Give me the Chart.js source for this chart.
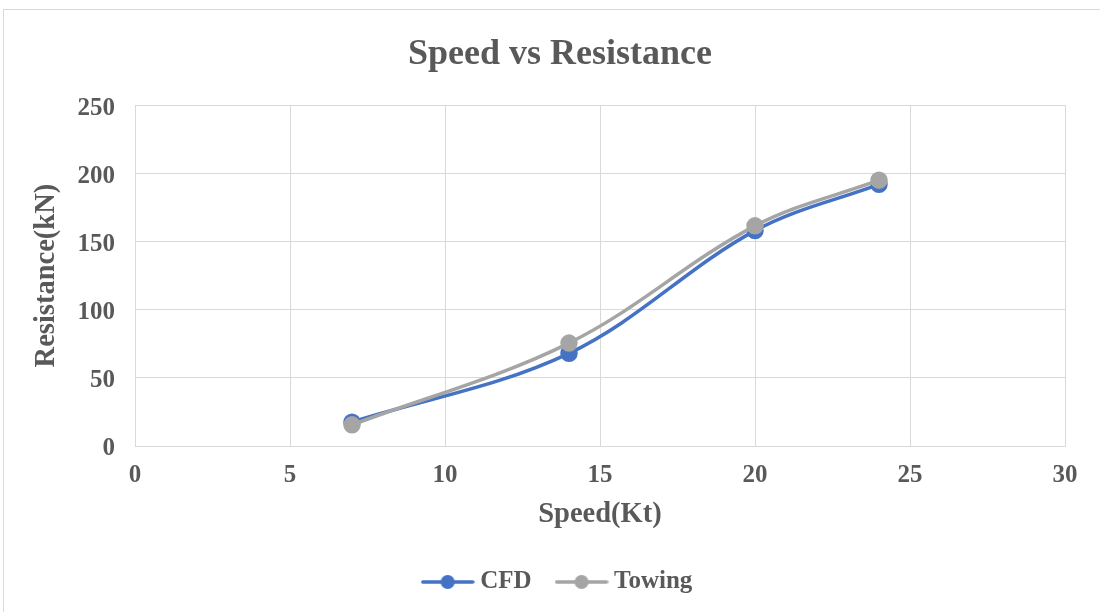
<!DOCTYPE html>
<html>
<head>
<meta charset="utf-8">
<script src="https://cdn.jsdelivr.net/npm/chart.js@4"></script>
<style>
  html, body { margin: 0; padding: 0; background: #fff; overflow: hidden; }
  #frame { position: absolute; left: 3px; top: 9px; width: 1112px; height: 620px; border: 1px solid #d9d9d9; box-sizing: border-box; }
  #wrap { position: absolute; left: 0; top: 0; width: 1112px; height: 603px; }
</style>
</head>
<body>
<div id="frame"><div id="wrap"><canvas id="chart"></canvas></div></div>
<script>
// chart data
const speeds     = [7, 14, 20, 24];
const cfdRes     = [17.5, 68, 158, 192];
const towingRes  = [15.5, 75.5, 161.5, 195];
const xTicks     = [0, 5, 10, 15, 20, 25, 30];
const yTicks     = [0, 50, 100, 150, 200, 250];

const TXT = '#595959';
const FONT = "'Liberation Serif', 'Times New Roman', serif";

// legend symbol: short line with a dot
function legendIcon(color) {
  const c = document.createElement('canvas');
  c.width = 54; c.height = 16;
  const g = c.getContext('2d');
  g.strokeStyle = color; g.lineWidth = 3.5; g.lineCap = 'round';
  g.beginPath(); g.moveTo(2, 8); g.lineTo(52, 8); g.stroke();
  g.fillStyle = color;
  g.beginPath(); g.arc(27, 8, 7, 0, Math.PI * 2); g.fill();
  return c;
}
const icons = [legendIcon('#4472C4'), legendIcon('#A5A5A5')];

const ctx = document.getElementById('chart').getContext('2d');
new Chart(ctx, {
  type: 'line',
  data: {
    datasets: [
      { label: 'CFD', data: speeds.map((s, i) => ({ x: s, y: cfdRes[i] })),
        borderColor: '#4472C4', backgroundColor: '#4472C4', borderWidth: 3.5,
        pointRadius: 7, pointHoverRadius: 7, tension: 0.35, order: 2 },
      { label: 'Towing', data: speeds.map((s, i) => ({ x: s, y: towingRes[i] })),
        borderColor: '#A5A5A5', backgroundColor: '#A5A5A5', borderWidth: 3.5,
        pointRadius: 7, pointHoverRadius: 7, tension: 0.35, order: 1 }
    ]
  },
  options: {
    responsive: true,
    maintainAspectRatio: false,
    animation: false,
    layout: { padding: { left: 0, right: 0, top: 0, bottom: 8.5 } },
    plugins: {
      tooltip: { enabled: false },
      title: {
        display: true, text: 'Speed vs Resistance', color: TXT,
        font: { family: FONT, size: 36, weight: 'bold' },
        padding: { top: 23, bottom: 29 }
      },
      legend: {
        position: 'bottom',
        labels: {
          usePointStyle: true, pointStyleWidth: 40, padding: 30, color: TXT,
          font: { family: FONT, size: 25, weight: 'bold' },
          generateLabels: chart => chart.data.datasets.map((ds, i) => ({
            text: ds.label, pointStyle: icons[i], fontColor: TXT,
            datasetIndex: i, hidden: false, lineWidth: 0,
            strokeStyle: 'transparent', fillStyle: 'transparent'
          }))
        }
      }
    },
    scales: {
      x: {
        type: 'linear', min: xTicks[0], max: xTicks[xTicks.length - 1],
        afterBuildTicks: s => { s.ticks = xTicks.map(v => ({ value: v })); },
        afterFit: s => { s.height = 93.5; },
        grid: { color: '#d9d9d9', drawTicks: false },
        border: { color: '#d9d9d9' },
        ticks: { color: TXT, padding: 15, font: { family: FONT, size: 25, weight: 'bold' } },
        title: { display: true, text: 'Speed(Kt)', color: TXT, padding: { top: 4, bottom: 7.4 },
                 font: { family: FONT, size: 28.5, weight: 'bold' } }
      },
      y: {
        min: yTicks[0], max: yTicks[yTicks.length - 1],
        afterBuildTicks: s => { s.ticks = yTicks.map(v => ({ value: v })); },
        afterFit: s => { s.width = 131; },
        grid: { color: '#d9d9d9', drawTicks: false },
        border: { color: '#d9d9d9' },
        ticks: { color: TXT, padding: 20, labelOffset: 3, font: { family: FONT, size: 25, weight: 'bold' } },
        title: { display: true, text: 'Resistance(kN)', color: TXT, padding: { top: 26 },
                 font: { family: FONT, size: 28.5, weight: 'bold' } }
      },
      // empty right-hand band so the plot ends where the reference does
      yRight: {
        type: 'linear', position: 'right',
        afterFit: s => { s.width = 51; },
        grid: { display: false }, border: { display: false }, ticks: { display: false }
      }
    }
  }
});
</script>
</body>
</html>
